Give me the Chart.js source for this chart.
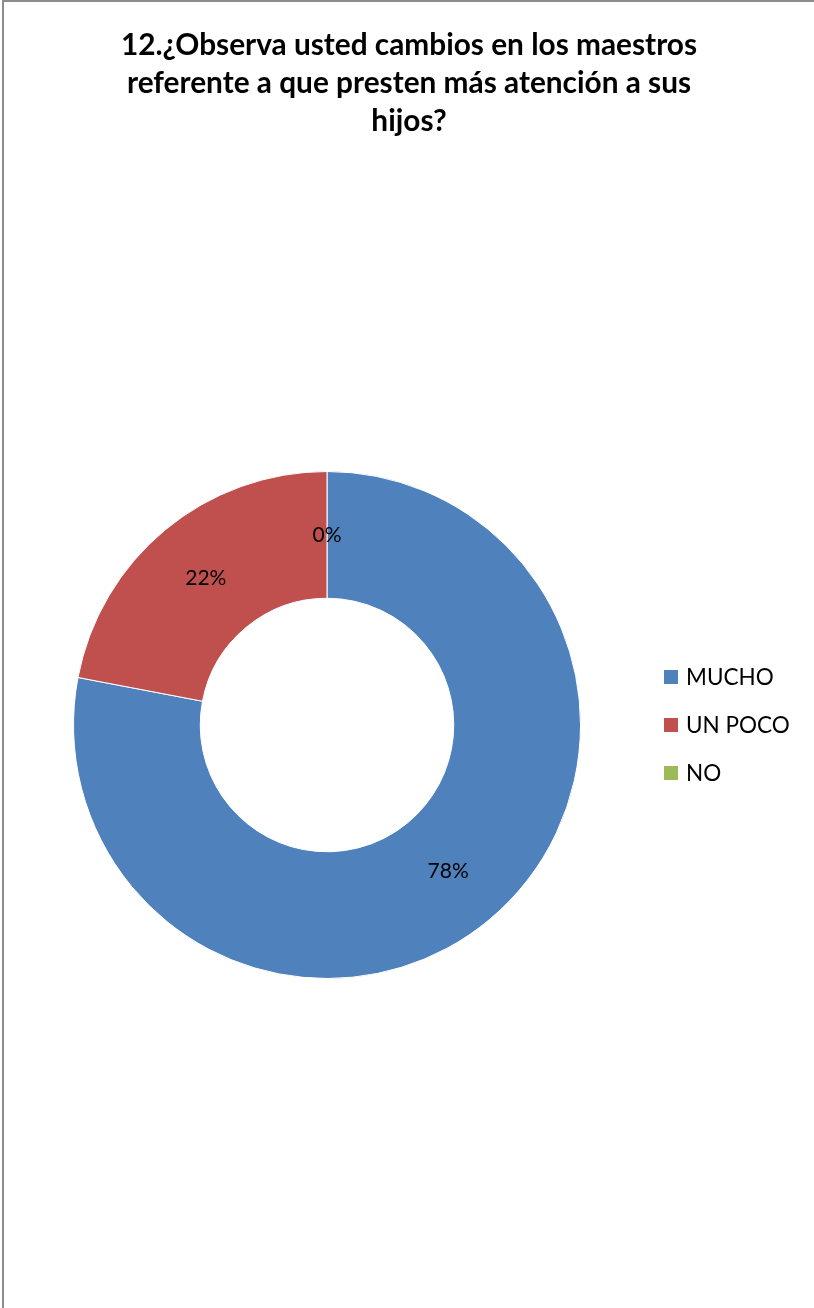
<!DOCTYPE html>
<html>
<head>
<meta charset="utf-8">
<script src="https://cdn.jsdelivr.net/npm/chart.js@4/dist/chart.umd.min.js"></script>
<style>
    html, body { margin: 0; padding: 0; background: #fff; }
    #wrap { width: 814px; height: 1308px; }
</style>
</head>
<body>
<div id="wrap"><canvas id="pie" width="814" height="1308"></canvas></div>
<script>
// ============================================================================
// DATA
// ============================================================================

const titleLines = [
    '12.¿Observa usted cambios en los maestros',
    'referente a que presten más atención a sus',
    'hijos?'
];
const categories = ['MUCHO', 'UN POCO', 'NO'];
const values = [78, 22, 0];
const colors = ['#4F81BD', '#C0504D', '#9BBB59'];

const FONT = 'Lato, "Open Sans", sans-serif';

/**
 * Frame, title, percent labels and legend
 */
const decorPlugin = {
    id: 'decor',
    beforeDraw(chart) {
        const ctx = chart.ctx;
        ctx.save();
        ctx.strokeStyle = '#8c8c8c';
        ctx.lineWidth = 2;
        ctx.beginPath();
        ctx.moveTo(3, 1400);
        ctx.lineTo(3, 1);
        ctx.lineTo(900, 1);
        ctx.stroke();
        ctx.restore();
    },
    afterDatasetsDraw(chart) {
        const ctx = chart.ctx;
        const meta = chart.getDatasetMeta(0);
        const total = values.reduce((a, b) => a + b, 0);

        ctx.save();
        ctx.fillStyle = '#000';
        ctx.textAlign = 'center';
        ctx.textBaseline = 'middle';
        ctx.font = '21px ' + FONT;
        meta.data.forEach((arc, i) => {
            const p = arc.getCenterPoint();
            ctx.fillText(Math.round(values[i] / total * 100) + '%', p.x, p.y);
        });

        // Title
        ctx.font = 'bold 29.8px ' + FONT;
        titleLines.forEach((line, i) => {
            ctx.fillText(line, 409, 45 + i * 38);
        });

        // Legend
        ctx.textAlign = 'left';
        ctx.font = '22.5px ' + FONT;
        categories.forEach((c, i) => {
            const y = 677 + i * 48;
            ctx.fillStyle = colors[i];
            ctx.fillRect(664, y - 7, 14, 14);
            ctx.fillStyle = '#000';
            ctx.fillText(c, 686, y + 1);
        });
        ctx.restore();
    }
};

const canvas = document.getElementById('pie');
new Chart(canvas.getContext('2d'), {
    type: 'doughnut',
    data: {
        labels: categories,
        datasets: [{
            data: values,
            backgroundColor: colors,
            borderColor: '#fff',
            borderWidth: 1
        }]
    },
    options: {
        responsive: false,
        animation: false,
        cutout: '50%',
        layout: {
            padding: { left: 73, right: 233, top: 471, bottom: 329 }
        },
        plugins: {
            legend: { display: false },
            title: { display: false },
            tooltip: { enabled: false }
        }
    },
    plugins: [decorPlugin]
});
</script>
</body>
</html>
